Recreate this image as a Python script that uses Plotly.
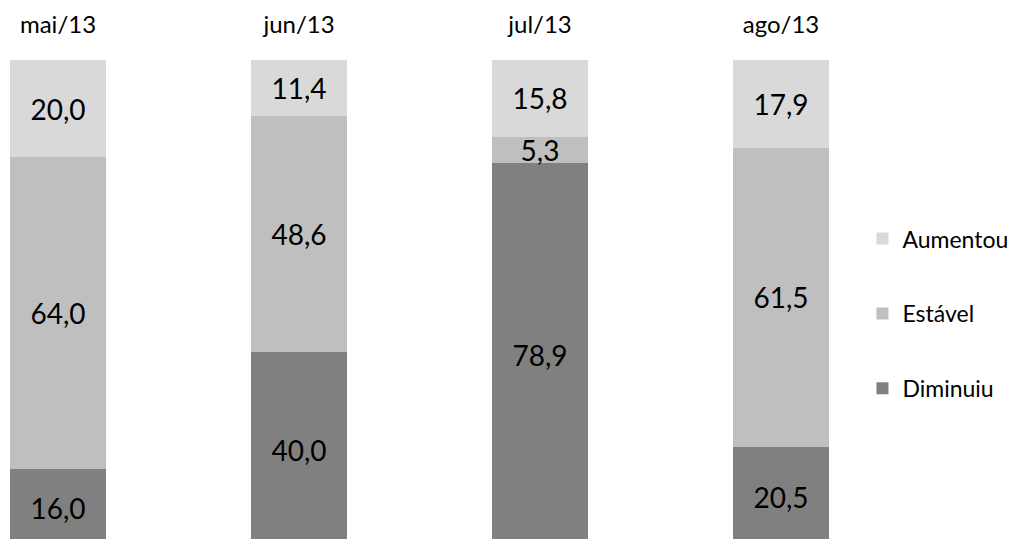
import plotly.graph_objects as go

categories = ["mai/13", "jun/13", "jul/13", "ago/13"]
diminuiu = [16.0, 40.0, 78.9, 20.5]
estavel = [64.0, 48.6, 5.3, 61.5]
aumentou = [20.0, 11.4, 15.8, 17.9]

series = [
    ("Diminuiu", diminuiu, "#808080", 3),
    ("Estável", estavel, "#bfbfbf", 2),
    ("Aumentou", aumentou, "#d9d9d9", 1),
]

FONT = "Lato, Carlito, Calibri, sans-serif"

fig = go.Figure()
for name, vals, color, rank in series:
    fig.add_trace(go.Bar(
        x=categories, y=vals, name=name, legendgroup=name, legendrank=rank,
        marker=dict(color=color, line=dict(width=0)),
        text=[f"{v:.1f}".replace(".", ",") for v in vals],
        textposition="inside", insidetextanchor="middle",
        constraintext="none", textangle=0,
        insidetextfont=dict(family=FONT, size=28, color="#000000"),
        width=0.4, hoverinfo="skip",
    ))

fig.update_layout(
    width=1016, height=539,
    barmode="stack",
    paper_bgcolor="white", plot_bgcolor="white",
    margin=dict(l=0, r=156, t=52, b=0, autoexpand=False),
    font=dict(family=FONT, color="#000000"),
    xaxis=dict(side="top", range=[-0.2075, 3.361], showgrid=False,
               zeroline=False, showline=False, ticks="", automargin=False,
               ticklabelstandoff=21,
               tickfont=dict(family=FONT, size=24, color="#000000")),
    yaxis=dict(range=[0, 100], visible=False, showgrid=False,
               automargin=False),
    legend=dict(
        xref="container", yref="container", x=0.841, y=0.433,
        xanchor="left", yanchor="middle",
        traceorder="grouped", tracegroupgap=42,
        font=dict(family=FONT, size=23, color="#000000"),
        bgcolor="rgba(0,0,0,0)",
    ),
    showlegend=True,
)

fig.write_html("out.html")
